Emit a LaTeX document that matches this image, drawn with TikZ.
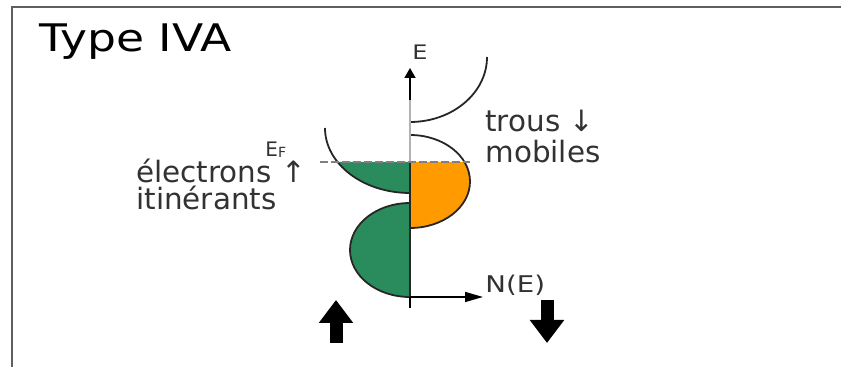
\documentclass[tikz,border=0pt]{standalone}
\usepackage{fontspec}
\setmainfont{DejaVu Sans}
\newfontfamily\widefont[FakeStretch=1.2]{DejaVu Sans}
\usetikzlibrary{arrows.meta,positioning}

\definecolor{upgreen}{RGB}{42,140,92}
\definecolor{downorange}{RGB}{255,155,0}
\definecolor{framegray}{RGB}{95,95,95}
\definecolor{txtgray}{RGB}{50,50,50}

\tikzset{
  band/.style={draw=black!85, line width=0.9pt},
  dostext/.style={anchor=base west, inner sep=0pt, text=txtgray, align=left},
  spinarrow/.style={line width=6.5pt, -{Triangle[width=16.5pt,length=11.5pt]}}
}

\begin{document}
\begin{tikzpicture}[x=0.5pt, y=-0.5pt]
  \useasboundingbox (0,0) rectangle (841,367);
  % box edges
  \draw[framegray, line width=1.2pt] (12,367) -- (12,7) -- (841,7);

  % filled states below E_F
  \fill[upgreen] (410,128) ++(148.5:85 and 65)
    arc[start angle=148.5, end angle=90, x radius=85, y radius=65] -- (410,162) -- cycle;
  \filldraw[fill=upgreen, band] (410,203)
    arc[start angle=-90, end angle=-270, x radius=60, y radius=47] -- cycle;
  \fill[downorange] (410,162) -- (464.5,162)
    arc[start angle=-24.8, end angle=90, x radius=60, y radius=46.5] -- cycle;

  % band edges
  \draw[band] (410,128) ++(180:85 and 65)
    arc[start angle=180, end angle=90, x radius=85, y radius=65];
  \draw[band] (410,135) arc[start angle=-90, end angle=90, x radius=60, y radius=46.5];
  \draw[band] (410,122) arc[start angle=90, end angle=0, x radius=77, y radius=65];

  % axes
  \coordinate (origin) at (410,297);
  \coordinate (ebottom) at (410,308);
  \coordinate (eshaft) at (410,100);
  \coordinate (etop) at (410,68);
  \coordinate (efaxis) at (410,162);
  \coordinate (ntip) at (483,297);
  \draw[gray!60, line width=0.6pt] (ebottom) -- (eshaft);
  \draw[band] (efaxis) -- (origin);
  \draw[black, line width=0.9pt] (origin) -- (ebottom);
  \draw[black, line width=0.9pt, -{Triangle[width=5.5pt,length=5pt]}] (eshaft) -- (etop);
  \draw[black, line width=0.8pt, -{Triangle[width=5pt,length=9pt]}] (origin) -- (ntip);

  % Fermi level
  \coordinate (efl) at (320,162);
  \coordinate (efr) at (470,162);
  \draw[gray, line width=0.6pt, dash pattern=on 4pt off 1.5pt] (efl) -- (efr);

  % labels (multi-line ones sit on their last baseline)
  \node[anchor=base west, inner sep=0pt, font=\widefont\fontsize{19}{19}\selectfont] (title) at (39,52) {Type IVA};
  \node[dostext, font=\widefont\fontsize{10}{10}\selectfont] (elabel) at (412,60) {E};
  \node[dostext, font=\widefont\fontsize{11.5}{11.5}\selectfont] (nlabel) at (485,293) {N(E)};
  \node[dostext, font=\fontsize{10}{10}\selectfont] (eflabel) at (265,157)
    {E\raisebox{-0.5pt}{\fontsize{7}{7}\selectfont F}};
  \node[dostext, font=\fontsize{14.7}{13.5}\selectfont] (uplabel) at (136,210)
    {électrons ↑\\itinérants};
  \node[dostext, font=\fontsize{14.7}{15.5}\selectfont] (dnlabel) at (485,163)
    {trous ↓\\mobiles};

  % spin directions
  \coordinate (uptail) at (336,343);
  \coordinate (uphead) at (336,300);
  \coordinate (dntail) at (547,300);
  \coordinate (dnhead) at (547,343);
  \draw[spinarrow] (uptail) -- (uphead);
  \draw[spinarrow] (dntail) -- (dnhead);
\end{tikzpicture}
\end{document}
